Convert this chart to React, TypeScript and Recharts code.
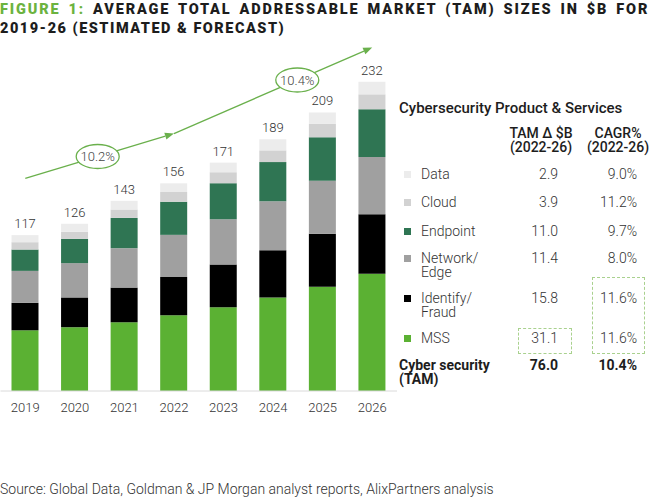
import React from 'react';
import { BarChart, Bar, XAxis, YAxis, LabelList, ReferenceLine } from 'recharts';

// Market size by segment, $B
const years = ['2019', '2020', '2021', '2022', '2023', '2024', '2025', '2026'];
const mss = [45.5, 47.8, 51.5, 56.8, 62.8, 70.0, 78.2, 87.9];
const identify = [20.5, 22.3, 26.0, 28.7, 32.0, 35.4, 39.6, 44.5];
const network = [24.0, 25.7, 29.5, 31.5, 33.8, 36.7, 39.7, 42.9];
const endpoint = [16.0, 18.2, 22.7, 24.8, 27.1, 29.4, 32.6, 35.8];
const cloud = [5.5, 5.3, 6.3, 7.3, 8.2, 8.8, 10.0, 11.2];
const dataSeg = [5.3, 6.0, 6.5, 6.5, 7.2, 8.3, 8.6, 9.4];
const totals = [117, 126, 143, 156, 171, 189, 209, 232];

// Side table
const segNames = ['Data', 'Cloud', 'Endpoint', 'Network/\nEdge', 'Identify/\nFraud', 'MSS'];
const tamDelta = ['2.9', '3.9', '11.0', '11.4', '15.8', '31.1'];
const cagr = ['9.0%', '11.2%', '9.7%', '8.0%', '11.6%', '11.6%'];
const totalRow = { name: 'Cyber security\n(TAM)', delta: '76.0', cagr: '10.4%' };

// CAGR arrow (trend annotation)
const trend1 = { from: '2019', fromY: 159.4, to: '2022', toY: 192.9, label: '10.2%', at: 0.487 };
const trend2 = { from: '2022', fromY: 192.9, to: '2026', toY: 257.4, label: '10.4%', at: 0.622 };

const colors = {
  mss: '#5bb133',
  identify: '#000000',
  network: '#a0a0a0',
  endpoint: '#2f7553',
  cloud: '#d2d2d2',
  data: '#ececec',
};
const segColors = [colors.data, colors.cloud, colors.endpoint, colors.network, colors.identify, colors.mss];
const rowY = [174, 202, 231, 258, 298, 338];

const ARROW = '#6ab04c';
const FONT = 'Roboto, sans-serif';

const rows = years.map((y, i) => ({
  year: y,
  mss: mss[i],
  identify: identify[i],
  network: network[i],
  endpoint: endpoint[i],
  cloud: cloud[i],
  data: dataSeg[i],
  total: totals[i],
}));

function trendShape(label: string, at: number) {
  return (p: any) => {
    const { x1, y1, x2, y2 } = p;
    const ang = Math.atan2(y2 - y1, x2 - x1);
    const L = 9;
    const W = 3.6;
    const bx = x2 - L * Math.cos(ang);
    const by = y2 - L * Math.sin(ang);
    const px = -Math.sin(ang) * W;
    const py = Math.cos(ang) * W;
    const cx = x1 + (x2 - x1) * at;
    const cy = y1 + (y2 - y1) * at;
    return (
      <g>
        <line x1={x1} y1={y1} x2={bx} y2={by} stroke={ARROW} strokeWidth={1.3} />
        <polygon points={`${x2},${y2} ${bx + px},${by + py} ${bx - px},${by - py}`} fill={ARROW} />
        <ellipse cx={cx} cy={cy} rx={21.5} ry={12} fill="#fff" stroke={ARROW} strokeWidth={1.3} />
        <text x={cx} y={cy + 4.5} textAnchor="middle" fontSize={13} fontWeight={300} fill="#444" fontFamily={FONT}>
          {label}
        </text>
      </g>
    );
  };
}

function Lines({ text, style }: { text: string; style: React.CSSProperties }) {
  return (
    <div style={{ position: 'absolute', lineHeight: '14px', whiteSpace: 'pre', ...style }}>{text}</div>
  );
}

const titleStyle: React.CSSProperties = {
  position: 'absolute',
  left: 0,
  fontSize: 14.5,
  fontWeight: 900,
  lineHeight: '19px',
  color: '#1d1d1d',
  whiteSpace: 'nowrap',
};

export default function App() {
  return (
    <div
      style={{
        position: 'absolute',
        left: 0,
        top: 0,
        width: 650,
        height: 499,
        background: '#fff',
        fontFamily: FONT,
        color: '#333',
        overflow: 'hidden',
      }}
    >
      <div style={{ ...titleStyle, top: 0, letterSpacing: 1.85, wordSpacing: 2.6 }}>
        <span style={{ color: '#6cb33f' }}>FIGURE 1:</span> AVERAGE TOTAL ADDRESSABLE MARKET (TAM) SIZES IN $B FOR
      </div>
      <div style={{ ...titleStyle, top: 19, letterSpacing: 1.5 }}>2019-26 (ESTIMATED &amp; FORECAST)</div>

      <div style={{ position: 'absolute', left: 0, top: 0 }}>
        <BarChart width={398} height={430} data={rows} margin={{ top: 44, right: 1, left: 0.5, bottom: 0 }}>
          <XAxis
            dataKey="year"
            height={39}
            tickLine={false}
            axisLine={{ stroke: '#dadada' }}
            tickMargin={6}
            tick={{ fontSize: 13, fill: '#333', fontWeight: 300, fontFamily: FONT }}
          />
          <YAxis hide domain={[0, 260]} />
          <Bar dataKey="mss" stackId="a" fill={colors.mss} barSize={27} isAnimationActive={false} />
          <Bar dataKey="identify" stackId="a" fill={colors.identify} barSize={27} isAnimationActive={false} />
          <Bar dataKey="network" stackId="a" fill={colors.network} barSize={27} isAnimationActive={false} />
          <Bar dataKey="endpoint" stackId="a" fill={colors.endpoint} barSize={27} isAnimationActive={false} />
          <Bar dataKey="cloud" stackId="a" fill={colors.cloud} barSize={27} isAnimationActive={false} />
          <Bar dataKey="data" stackId="a" fill={colors.data} barSize={27} isAnimationActive={false}>
            <LabelList
              dataKey="total"
              position="top"
              offset={7}
              style={{ fontSize: 13, fill: '#333', fontWeight: 300, fontFamily: FONT }}
            />
          </Bar>
          {[trend1, trend2].map((t) => (
            <ReferenceLine
              key={t.label}
              segment={[
                { x: t.from, y: t.fromY },
                { x: t.to, y: t.toY },
              ]}
              ifOverflow="visible"
              shape={trendShape(t.label, t.at)}
            />
          ))}
        </BarChart>
      </div>

      {/* side table */}
      <div style={{ position: 'absolute', left: 399, top: 99, fontSize: 15, fontWeight: 500, color: '#1d1d1d', whiteSpace: 'nowrap' }}>
        Cybersecurity Product &amp; Services
      </div>
      <Lines
        text={'TAM \u0394 $B\n(2022-26)'}
        style={{ left: 496, width: 90, top: 126, fontSize: 14, fontWeight: 500, textAlign: 'center', color: '#1d1d1d' }}
      />
      <Lines
        text={'CAGR%\n(2022-26)'}
        style={{ left: 573, width: 90, top: 126, fontSize: 14, fontWeight: 500, textAlign: 'center', color: '#1d1d1d' }}
      />
      {segNames.map((n, i) => (
        <React.Fragment key={n}>
          <div
            style={{ position: 'absolute', left: 403.5, top: rowY[i] - 3.5, width: 7, height: 7, background: segColors[i] }}
          />
          <Lines text={n} style={{ left: 421, top: rowY[i] - 7, fontSize: 14, fontWeight: 300 }} />
          <Lines text={tamDelta[i]} style={{ left: 480, width: 78, top: rowY[i] - 7, fontSize: 14, fontWeight: 300, textAlign: 'right' }} />
          <Lines text={cagr[i]} style={{ left: 560, width: 77, top: rowY[i] - 7, fontSize: 14, fontWeight: 300, textAlign: 'right' }} />
        </React.Fragment>
      ))}
      <Lines text={totalRow.name} style={{ left: 399, top: 358, fontSize: 14, fontWeight: 700, color: '#1d1d1d' }} />
      <Lines text={totalRow.delta} style={{ left: 480, width: 78, top: 358, fontSize: 14, fontWeight: 700, textAlign: 'right', color: '#1d1d1d' }} />
      <Lines text={totalRow.cagr} style={{ left: 560, width: 77, top: 358, fontSize: 14, fontWeight: 700, textAlign: 'right', color: '#1d1d1d' }} />

      <div style={{ position: 'absolute', left: 518, top: 328, width: 52, height: 24, border: '1px dashed #a9d18e' }} />
      <div style={{ position: 'absolute', left: 592, top: 277, width: 51, height: 75, border: '1px dashed #a9d18e' }} />

      <div style={{ position: 'absolute', left: 0, top: 481, fontSize: 14, fontWeight: 300, whiteSpace: 'nowrap' }}>
        Source: Global Data, Goldman &amp; JP Morgan analyst reports, AlixPartners analysis
      </div>
    </div>
  );
}
